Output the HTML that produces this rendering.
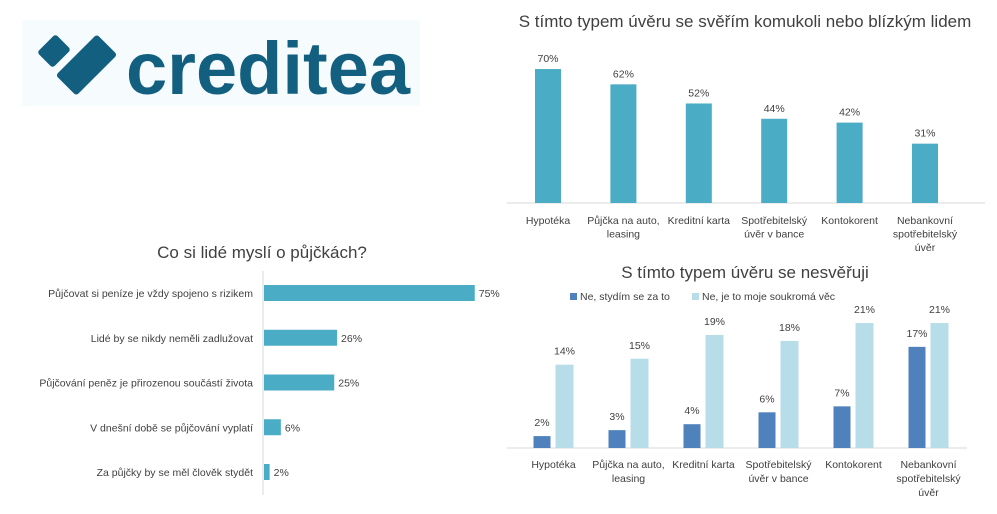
<!DOCTYPE html>
<html><head><meta charset="utf-8"><style>
html,body{margin:0;padding:0;background:#fff;}
svg{display:block;font-family:"Liberation Sans","DejaVu Sans",sans-serif;}
text{fill:#404040;}
</style></head><body>
<svg id="root" width="997" height="514" viewBox="0 0 997 514">
<g>
  <rect x="22" y="20" width="398" height="86" fill="#f6fbfd"/>
  <rect x="41" y="40" width="26" height="22" rx="3" fill="#135f7f" transform="rotate(-45 54 51)"/>
  <rect x="57.5" y="50.5" width="58" height="29" rx="3" fill="#135f7f" transform="rotate(-45 86.5 65)"/>
  <text x="126" y="94" font-size="74" font-weight="bold" style="fill:#135f7f" textLength="284" lengthAdjust="spacingAndGlyphs">creditea</text>
</g>
<text x="745" y="27" font-size="17" text-anchor="middle">S tímto typem úvěru se svěřím komukoli nebo  blízkým lidem</text>
<g id="top"></g>
<text x="262" y="258" font-size="17" text-anchor="middle">Co si lidé myslí o půjčkách?</text>
<g id="left"></g>
<text x="745" y="278" font-size="17" text-anchor="middle">S tímto typem úvěru se nesvěřuji</text>
<g>
  <rect x="570" y="293" width="7" height="7" fill="#4f81bd"/>
  <text x="580" y="300" font-size="10.5">Ne, stydím se za to</text>
  <rect x="692" y="293" width="7" height="7" fill="#b7dde8"/>
  <text x="702" y="300" font-size="10.5">Ne, je to moje soukromá věc</text>
</g>
<g id="bottom"></g>
</svg>
<script>
const cats = [["Hypotéka"],["Půjčka na auto,","leasing"],["Kreditní karta"],["Spotřebitelský","úvěr v bance"],["Kontokorent"],["Nebankovní","spotřebitelský","úvěr"]];
const topVals = [70,62,52,44,42,31];
const leftCats = ["Půjčovat si peníze je vždy spojeno s rizikem","Lidé by se nikdy neměli zadlužovat","Půjčování peněz je přirozenou součástí života","V dnešní době se půjčování vyplatí","Za půjčky by se měl člověk stydět"];
const leftVals = [75,26,25,6,2];
const ashamedVals = [2,3,4,6,7,17];
const privateVals = [14,15,19,18,21,21];

const NS="http://www.w3.org/2000/svg";
function mk(parent,tag,attrs,txt){const e=document.createElementNS(NS,tag);for(const k in attrs)e.setAttribute(k,attrs[k]);if(txt!==undefined)e.textContent=txt;parent.appendChild(e);return e;}

// top chart
const gT=document.getElementById('top');
const tBase=203, tScale=1.914, tX0=548, tStep=75.4;
const tx=i=>tX0+i*tStep, ty=v=>tBase-v*tScale;
let ax=mk(gT,'line',{x1:507,x2:985,y1:tBase,y2:tBase,stroke:'#d9d9d9'});


topVals.forEach((v,i)=>{
  const r=mk(gT,'rect',{x:tx(i)-13,y:ty(v),width:26,height:v*tScale,fill:'#4bacc6'});
  
  
  const t=mk(gT,'text',{x:tx(i),y:ty(v)-7,'font-size':10.5,'text-anchor':'middle'},v+'%');
  
  
});
cats.forEach((c,i)=>c.forEach((l,j)=>{
  const t=mk(gT,'text',{x:tx(i),y:224+j*13.5,'font-size':10.5,'text-anchor':'middle'},l);
  
  
}));

// left chart
const gL=document.getElementById('left');
const lX0=263, lScale=2.81, lY0=293, lStep=44.75;
const ly=i=>lY0+i*lStep, lx=v=>lX0+v*lScale;
ax=mk(gL,'line',{x1:lX0,x2:lX0,y1:271,y2:495,stroke:'#d9d9d9'});


leftVals.forEach((v,i)=>{
  const r=mk(gL,'rect',{x:lX0+1,y:ly(i)-8,width:v*lScale,height:16,fill:'#4bacc6'});
  
  
  const t=mk(gL,'text',{x:lx(v)+5,y:ly(i)+4,'font-size':10.5},v+'%');
  
  
  const c=mk(gL,'text',{x:253,y:ly(i)+4,'font-size':10.5,'text-anchor':'end'},leftCats[i]);
  
  
});

// bottom chart
const gB=document.getElementById('bottom');
const bBase=448, bScale=5.95, bX0=553.5, bStep=75;
const bx=i=>bX0+i*bStep, by=v=>bBase-v*bScale;
ax=mk(gB,'line',{x1:507,x2:967,y1:bBase,y2:bBase,stroke:'#d9d9d9'});


ashamedVals.forEach((v,i)=>{
  const r=mk(gB,'rect',{x:bx(i)-20,y:by(v),width:17,height:v*bScale,fill:'#4f81bd'});
  
  
  const t=mk(gB,'text',{x:bx(i)-11.5,y:by(v)-10,'font-size':10.5,'text-anchor':'middle'},v+'%');
  
  
});
privateVals.forEach((v,i)=>{
  const r=mk(gB,'rect',{x:bx(i)+2,y:by(v),width:18,height:v*bScale,fill:'#b7dde8'});
  
  
  const t=mk(gB,'text',{x:bx(i)+11,y:by(v)-10,'font-size':10.5,'text-anchor':'middle'},v+'%');
  
  
});
cats.forEach((c,i)=>c.forEach((l,j)=>{
  const t=mk(gB,'text',{x:bx(i),y:468+j*14,'font-size':10.5,'text-anchor':'middle'},l);
  
  
}));
</script>
</body></html>
